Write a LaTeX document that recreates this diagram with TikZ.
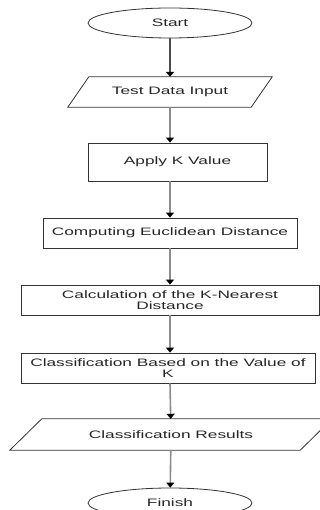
\documentclass[tikz,border=0pt]{standalone}
\usepackage{fontspec}
\setmainfont[FakeStretch=1.6]{Liberation Sans}
\usetikzlibrary{shapes.geometric,arrows.meta}

\begin{document}
\begin{tikzpicture}[x=1pt, y=-1pt,
    every node/.style={font=\fontsize{10.8pt}{11.4pt}\selectfont, text=black!85},
    outline/.style={draw=black!80, line width=0.8pt},
    term/.style={ellipse, outline, minimum width=164pt, minimum height=30pt, inner sep=0pt},
    iobox/.style={rectangle, minimum height=30pt, inner sep=0pt},
    proc/.style={rectangle, outline, minimum height=30pt, inner sep=0pt, align=center},
    flow/.style={draw=black!45, line width=1.6pt, -{Triangle[length=5pt, width=8pt, color=black]}}]
    \useasboundingbox (0,0) rectangle (320,510);

    \node[term] (start) at (170,23) {Start};
    \node[iobox, minimum width=183pt] (input) at (170,92) {Test Data Input};
    \node[proc, minimum width=179pt, minimum height=38pt] (apply) at (177.5,162) {Apply K Value};
    \node[proc, minimum width=254pt] (euclid) at (170,233) {Computing Euclidean Distance};
    \node[proc, minimum width=298pt] (knear) at (170,300) {Calculation of the K-Nearest\\Distance};
    \node[proc, minimum width=294pt] (classify) at (168,368) {Classification Based on the Value of\\K};
    \node[iobox, minimum width=290pt, minimum height=31pt] (result) at (171,434.5) {Classification Results};
    \node[term] (finish) at (170,503) {Finish};

    % slanted input/output boxes
    \draw[outline] ([xshift=10.5pt]input.north west) -- ([xshift=10.5pt]input.north east)
        -- ([xshift=-10.5pt]input.south east) -- ([xshift=-10.5pt]input.south west) -- cycle;
    \draw[outline] ([xshift=16pt]result.north west) -- ([xshift=16pt]result.north east)
        -- ([xshift=-16pt]result.south east) -- ([xshift=-16pt]result.south west) -- cycle;

    \draw[flow, draw=black!70, line width=1.2pt] (start) -- (input);
    \draw[flow] (input) -- (input |- apply.north);
    \draw[flow] (input |- apply.south) -- (euclid);
    \draw[flow] (euclid) -- (knear);
    \draw[flow] (knear) -- (knear |- classify.north);
    \draw[flow] (knear |- classify.south) -- (result);
    \draw[flow] (result) -- (finish);
\end{tikzpicture}
\end{document}
